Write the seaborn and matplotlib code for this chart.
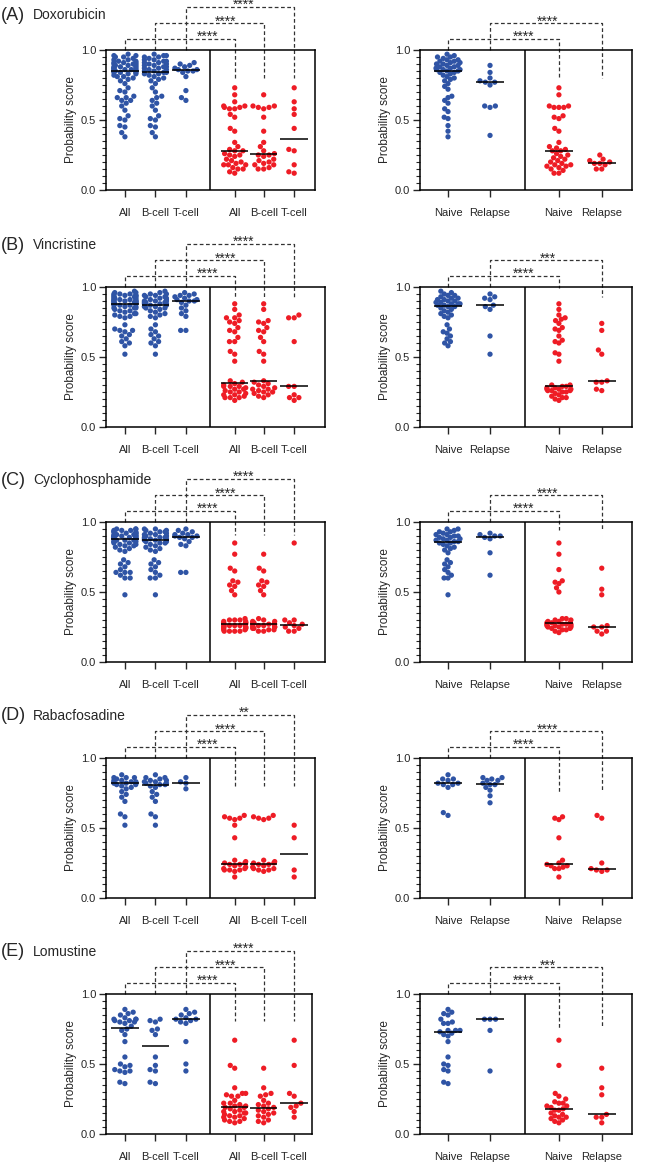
import warnings
import numpy as np
import pandas as pd
import matplotlib
matplotlib.use("Agg")
import matplotlib.pyplot as plt
from matplotlib.collections import PathCollection
from matplotlib.ticker import MultipleLocator
import seaborn as sns

warnings.filterwarnings("ignore")

# --- Data (probability scores) ---
drugs = ["Doxorubicin", "Vincristine", "Cyclophosphamide", "Rabacfosadine", "Lomustine"]
tags = ["(A)", "(B)", "(C)", "(D)", "(E)"]
cell_labels = ["All", "B-cell", "T-cell", "All", "B-cell", "T-cell"]
status_labels = ["Naive", "Relapse", "Naive", "Relapse"]

# blue = high score group, red = low score group
dox_hi_b = [0.97, 0.96, 0.96, 0.95, 0.95, 0.94, 0.93, 0.93, 0.92, 0.92, 0.91, 0.91, 0.90, 0.90, 0.89, 0.89,
            0.88, 0.88, 0.87, 0.87, 0.86, 0.86, 0.85, 0.85, 0.84, 0.84, 0.83, 0.83, 0.82, 0.81, 0.80, 0.79,
            0.78, 0.76, 0.73, 0.70, 0.67, 0.66, 0.64, 0.62, 0.60, 0.57, 0.53, 0.51, 0.50, 0.46, 0.45, 0.41, 0.38]
dox_hi_t = [0.91, 0.90, 0.89, 0.88, 0.87, 0.86, 0.86, 0.85, 0.85, 0.84, 0.81, 0.71, 0.66, 0.64]
dox_lo_b = [0.68, 0.60, 0.60, 0.59, 0.59, 0.58, 0.52, 0.42, 0.34, 0.31, 0.28, 0.26, 0.25, 0.25, 0.24, 0.22,
            0.21, 0.20, 0.19, 0.18, 0.18, 0.16, 0.15, 0.15]
dox_lo_t = [0.73, 0.63, 0.58, 0.54, 0.44, 0.29, 0.28, 0.18, 0.13, 0.12]
dox_hi_naive = [0.97, 0.96, 0.95, 0.95, 0.94, 0.93, 0.93, 0.92, 0.92, 0.91, 0.91, 0.90, 0.90, 0.89, 0.89, 0.88,
                0.88, 0.87, 0.87, 0.86, 0.86, 0.86, 0.85, 0.85, 0.84, 0.84, 0.83, 0.82, 0.81, 0.80, 0.79, 0.78,
                0.76, 0.74, 0.72, 0.67, 0.66, 0.64, 0.62, 0.58, 0.56, 0.52, 0.51, 0.46, 0.42, 0.38]
dox_hi_relapse = [0.89, 0.84, 0.80, 0.78, 0.77, 0.77, 0.75, 0.60, 0.60, 0.59, 0.39]
dox_lo_naive = [0.73, 0.68, 0.60, 0.60, 0.59, 0.59, 0.59, 0.53, 0.52, 0.51, 0.44, 0.42, 0.34, 0.31, 0.30, 0.29,
                0.28, 0.28, 0.26, 0.25, 0.24, 0.23, 0.22, 0.21, 0.20, 0.19, 0.18, 0.18, 0.17, 0.17, 0.16, 0.15,
                0.14, 0.12, 0.12]
dox_lo_relapse = [0.25, 0.22, 0.21, 0.20, 0.19, 0.19, 0.18, 0.15, 0.15]

vin_hi_b = [0.97, 0.96, 0.95, 0.95, 0.94, 0.94, 0.93, 0.93, 0.92, 0.92, 0.91, 0.91, 0.90, 0.90, 0.90, 0.89,
            0.89, 0.89, 0.88, 0.88, 0.88, 0.87, 0.87, 0.86, 0.86, 0.85, 0.85, 0.84, 0.83, 0.82, 0.81, 0.80,
            0.79, 0.78, 0.73, 0.70, 0.68, 0.66, 0.65, 0.63, 0.61, 0.60, 0.58, 0.52]
vin_hi_t = [0.96, 0.95, 0.94, 0.94, 0.93, 0.92, 0.91, 0.91, 0.90, 0.90, 0.89, 0.87, 0.85, 0.83, 0.81, 0.79,
            0.69, 0.69]
vin_lo_b = [0.88, 0.84, 0.76, 0.75, 0.74, 0.71, 0.69, 0.68, 0.64, 0.61, 0.54, 0.52, 0.47, 0.33, 0.32, 0.31,
            0.30, 0.29, 0.28, 0.27, 0.27, 0.26, 0.25, 0.25, 0.24, 0.23, 0.22, 0.21]
vin_lo_t = [0.80, 0.78, 0.78, 0.61, 0.29, 0.29, 0.23, 0.21, 0.21, 0.19]
vin_hi_naive = [0.97, 0.96, 0.95, 0.94, 0.94, 0.93, 0.92, 0.92, 0.91, 0.91, 0.90, 0.90, 0.89, 0.89, 0.88, 0.88,
                0.88, 0.87, 0.87, 0.86, 0.86, 0.85, 0.84, 0.83, 0.82, 0.81, 0.80, 0.79, 0.78, 0.73, 0.70, 0.68,
                0.67, 0.65, 0.63, 0.61, 0.60, 0.58]
vin_hi_relapse = [0.95, 0.93, 0.92, 0.91, 0.87, 0.86, 0.84, 0.65, 0.52]
vin_lo_naive = [0.88, 0.84, 0.80, 0.78, 0.77, 0.76, 0.74, 0.71, 0.70, 0.69, 0.65, 0.62, 0.61, 0.60, 0.53, 0.52,
                0.47, 0.30, 0.30, 0.29, 0.29, 0.28, 0.28, 0.27, 0.27, 0.27, 0.26, 0.26, 0.26, 0.25, 0.25, 0.24,
                0.23, 0.22, 0.21, 0.21, 0.20, 0.19]
vin_lo_relapse = [0.74, 0.69, 0.55, 0.52, 0.33, 0.32, 0.32, 0.27, 0.26]

cyc_hi_b = [0.95, 0.95, 0.94, 0.94, 0.93, 0.93, 0.92, 0.92, 0.91, 0.91, 0.90, 0.90, 0.90, 0.89, 0.89, 0.89,
            0.88, 0.88, 0.88, 0.87, 0.87, 0.87, 0.86, 0.86, 0.85, 0.85, 0.84, 0.83, 0.82, 0.81, 0.80, 0.79,
            0.73, 0.71, 0.70, 0.68, 0.66, 0.64, 0.62, 0.60, 0.60, 0.48]
cyc_hi_t = [0.95, 0.94, 0.93, 0.92, 0.91, 0.91, 0.90, 0.90, 0.89, 0.89, 0.88, 0.86, 0.84, 0.83, 0.64, 0.64]
cyc_lo_b = [0.77, 0.67, 0.65, 0.58, 0.57, 0.55, 0.54, 0.51, 0.48, 0.31, 0.30, 0.29, 0.29, 0.28, 0.28, 0.27,
            0.27, 0.27, 0.26, 0.26, 0.26, 0.25, 0.25, 0.25, 0.24, 0.24, 0.23, 0.23, 0.22, 0.22]
cyc_lo_t = [0.85, 0.30, 0.30, 0.28, 0.27, 0.26, 0.25, 0.24, 0.22, 0.22]
cyc_hi_naive = [0.95, 0.95, 0.94, 0.93, 0.93, 0.92, 0.91, 0.91, 0.90, 0.90, 0.89, 0.89, 0.88, 0.88, 0.87, 0.87,
                0.86, 0.86, 0.85, 0.85, 0.84, 0.83, 0.82, 0.81, 0.80, 0.78, 0.73, 0.71, 0.70, 0.68, 0.66, 0.64,
                0.62, 0.60, 0.60, 0.48]
cyc_hi_relapse = [0.92, 0.91, 0.90, 0.90, 0.89, 0.88, 0.78, 0.62]
cyc_lo_naive = [0.85, 0.77, 0.66, 0.58, 0.57, 0.56, 0.53, 0.50, 0.31, 0.31, 0.30, 0.30, 0.29, 0.29, 0.28, 0.28,
                0.28, 0.27, 0.27, 0.27, 0.27, 0.26, 0.26, 0.26, 0.25, 0.25, 0.25, 0.24, 0.24, 0.23, 0.23, 0.22,
                0.21]
cyc_lo_relapse = [0.67, 0.52, 0.48, 0.26, 0.25, 0.25, 0.22, 0.22, 0.20]

rab_hi_b = [0.88, 0.86, 0.86, 0.85, 0.84, 0.84, 0.83, 0.83, 0.82, 0.82, 0.81, 0.81, 0.80, 0.79, 0.76, 0.74,
            0.72, 0.69, 0.60, 0.58, 0.52]
rab_hi_t = [0.86, 0.83, 0.82, 0.78]
rab_lo_b = [0.59, 0.58, 0.57, 0.57, 0.56, 0.27, 0.26, 0.25, 0.25, 0.24, 0.24, 0.23, 0.22, 0.21, 0.21, 0.20,
            0.20, 0.19]
rab_lo_t = [0.52, 0.43, 0.20, 0.15]
rab_hi_naive = [0.88, 0.85, 0.85, 0.84, 0.82, 0.82, 0.81, 0.81, 0.79, 0.61, 0.59]
rab_hi_relapse = [0.86, 0.86, 0.85, 0.84, 0.84, 0.82, 0.81, 0.81, 0.79, 0.77, 0.73, 0.68]
rab_lo_naive = [0.58, 0.57, 0.56, 0.43, 0.27, 0.25, 0.24, 0.23, 0.23, 0.22, 0.21, 0.21, 0.15]
rab_lo_relapse = [0.59, 0.57, 0.25, 0.21, 0.20, 0.20, 0.19]

lom_hi_b = [0.82, 0.81, 0.80, 0.75, 0.74, 0.71, 0.55, 0.49, 0.46, 0.45, 0.37, 0.36]
lom_hi_t = [0.89, 0.87, 0.86, 0.85, 0.83, 0.82, 0.82, 0.81, 0.80, 0.79, 0.66, 0.50, 0.45]
lom_hi_other = [0.77, 0.48, 0.44]   # in "All" but neither B nor T
lom_lo_b = [0.47, 0.33, 0.29, 0.28, 0.27, 0.24, 0.22, 0.21, 0.20, 0.19, 0.18, 0.17, 0.16, 0.15, 0.14, 0.13,
            0.12, 0.10, 0.09, 0.08]
lom_lo_t = [0.67, 0.49, 0.29, 0.27, 0.22, 0.20, 0.19, 0.16, 0.12]
lom_lo_other = [0.15, 0.13, 0.11, 0.09]
lom_hi_naive = [0.89, 0.87, 0.86, 0.85, 0.82, 0.80, 0.79, 0.79, 0.74, 0.74, 0.74, 0.73, 0.72, 0.71, 0.70, 0.66,
                0.55, 0.50, 0.49, 0.46, 0.45, 0.37, 0.36]
lom_hi_relapse = [0.82, 0.82, 0.82, 0.74, 0.45]
lom_lo_naive = [0.67, 0.49, 0.29, 0.27, 0.25, 0.23, 0.22, 0.22, 0.20, 0.20, 0.19, 0.18, 0.17, 0.17, 0.15, 0.14,
                0.13, 0.12, 0.12, 0.11, 0.10, 0.09, 0.08]
lom_lo_relapse = [0.47, 0.33, 0.28, 0.14, 0.12, 0.12, 0.08]

left_stars = [["****", "****", "****"], ["****", "****", "****"], ["****", "****", "****"],
              ["****", "****", "**"], ["****", "****", "****"]]
right_stars = [["****", "****"], ["****", "***"], ["****", "****"], ["****", "****"], ["****", "***"]]

# --- Layout ---
W, H = 656, 1167
BLUE = "#2F54A5"
RED = "#EE1C25"
LINE = "#333333"
row_top = [50, 287, 522, 758, 994]
row_h = 140
left_edge_r = [315, 325, 325, 315, 312]
left_pos = [0, 1, 2, 3.6, 4.55, 5.55]
right_pos = [0, 1, 2.64, 3.66]
levels = [1.08, 1.19, 1.31]
left_drop = [0.80, 0.92, 0.91, 0.80, 0.81]
right_drop = [(0.80, 0.80), (0.99, 0.93), (0.94, 0.94), (0.76, 0.76), (0.76, 0.76)]
left_star_x = [2.7, 3.3, 3.9]
right_star_x = [1.8, 2.37]

sns.set_style("ticks")
plt.rcParams["font.family"] = ["Liberation Sans", "DejaVu Sans"]


def panel(ax, groups, positions, labels, xlim, divider, med_width):
    rows = []
    for pos, (vals, grp) in zip(positions, groups):
        rows += [{"pos": pos, "score": v, "grp": grp} for v in vals]
    df = pd.DataFrame(rows)
    sns.swarmplot(data=df, x="pos", y="score", hue="grp", palette={"hi": BLUE, "lo": RED},
                  native_scale=True, size=3.8, linewidth=0, legend=False, ax=ax)
    sns.boxplot(data=df, x="pos", y="score", native_scale=True, width=med_width,
                showbox=False, showcaps=False, showfliers=False,
                whiskerprops={"linewidth": 0},
                medianprops={"color": "black", "linewidth": 1.1, "zorder": 5}, ax=ax)
    ax.axvline(divider, color="black", lw=1.1)
    ax.set_xlim(*xlim)
    ax.set_ylim(0, 1.0)
    ax.set_xticks(positions)
    ax.set_xticklabels(labels)
    ax.set_yticks([0, 0.5, 1.0])
    ax.set_yticklabels(["0.0", "0.5", "1.0"])
    ax.yaxis.set_minor_locator(MultipleLocator(0.05))
    ax.tick_params(axis="x", length=5, width=1, labelsize=8, pad=8)
    ax.tick_params(axis="y", which="major", length=5, width=1, labelsize=8, pad=2)
    ax.tick_params(axis="y", which="minor", length=3, width=0.8)
    ax.set_xlabel("")
    ax.set_ylabel("Probability score", fontsize=8.5, labelpad=3)
    for s in ax.spines.values():
        s.set_visible(True)
        s.set_linewidth(1.1)
        s.set_color("black")


def squeeze_swarms(ax, positions, max_half):
    # narrow only the swarms that spread wider than the original (dense clusters overlap there)
    for coll in ax.collections:
        if isinstance(coll, PathCollection) and "draw" in coll.__dict__:
            del coll.draw  # keep the positions seaborn already computed
            off = coll.get_offsets().copy()
            if len(off):
                centre = min(positions, key=lambda p: abs(p - off[:, 0].mean()))
                half = np.abs(off[:, 0] - centre).max()
                if half > max_half:
                    off[:, 0] = centre + (off[:, 0] - centre) * max_half / half
                    coll.set_offsets(off)


def bracket(ax, x0, x1, level, drop, star, sx):
    ax.plot([x0, x0, x1, x1], [1.0, level, level, drop], color=LINE, lw=0.9,
            ls=(0, (3, 2)), clip_on=False)
    ax.text(sx, level - 0.015, star, ha="center", va="baseline", fontsize=10)


fig = plt.figure(figsize=(W / 100, H / 100), dpi=100)

data_rows = [
    (dox_hi_b, dox_hi_t, [], dox_lo_b, dox_lo_t, [], dox_hi_naive, dox_hi_relapse, dox_lo_naive, dox_lo_relapse),
    (vin_hi_b, vin_hi_t, [], vin_lo_b, vin_lo_t, [], vin_hi_naive, vin_hi_relapse, vin_lo_naive, vin_lo_relapse),
    (cyc_hi_b, cyc_hi_t, [], cyc_lo_b, cyc_lo_t, [], cyc_hi_naive, cyc_hi_relapse, cyc_lo_naive, cyc_lo_relapse),
    (rab_hi_b, rab_hi_t, [], rab_lo_b, rab_lo_t, [], rab_hi_naive, rab_hi_relapse, rab_lo_naive, rab_lo_relapse),
    (lom_hi_b, lom_hi_t, lom_hi_other, lom_lo_b, lom_lo_t, lom_lo_other,
     lom_hi_naive, lom_hi_relapse, lom_lo_naive, lom_lo_relapse),
]

squeeze_jobs = []
for i, (hb, ht, ho, lb, lt, lo, hn, hr, ln, lr) in enumerate(data_rows):
    top = row_top[i]
    bottom = 1 - (top + row_h) / H

    # left: by lineage
    axl = fig.add_axes([106 / W, bottom, (left_edge_r[i] - 106) / W, row_h / H])
    groups = [(hb + ht + ho, "hi"), (hb, "hi"), (ht, "hi"),
              (lb + lt + lo, "lo"), (lb, "lo"), (lt, "lo")]
    panel(axl, groups, left_pos, cell_labels,
          (-0.62, -0.62 + (left_edge_r[i] - 106) / 30.5), 2.79, 0.95)
    for k in range(3):
        bracket(axl, left_pos[k], left_pos[k + 3], levels[k], left_drop[i],
                left_stars[i][k], left_star_x[k])
    squeeze_jobs.append((axl, left_pos, 11 / 30.5))

    # right: naive vs relapse
    axr = fig.add_axes([420 / W, bottom, 212 / W, row_h / H])
    groups = [(hn, "hi"), (hr, "hi"), (ln, "lo"), (lr, "lo")]
    panel(axr, groups, right_pos, status_labels, (-0.667, 4.38), 1.83, 0.67)
    for k in range(2):
        bracket(axr, right_pos[k], right_pos[k + 2], levels[k], right_drop[i][k],
                right_stars[i][k], right_star_x[k])
    squeeze_jobs.append((axr, right_pos, 12 / 42))

    ty = max(top - 42, 15)
    fig.text(0.5 / W, 1 - ty / H, tags[i], fontsize=13, va="center", ha="left")
    fig.text(33 / W, 1 - ty / H, drugs[i], fontsize=10, va="center", ha="left")

fig.canvas.draw()  # let seaborn lay out the swarms first
for ax, pos, max_half in squeeze_jobs:
    squeeze_swarms(ax, pos, max_half)

fig.savefig("out.png", dpi=100)
